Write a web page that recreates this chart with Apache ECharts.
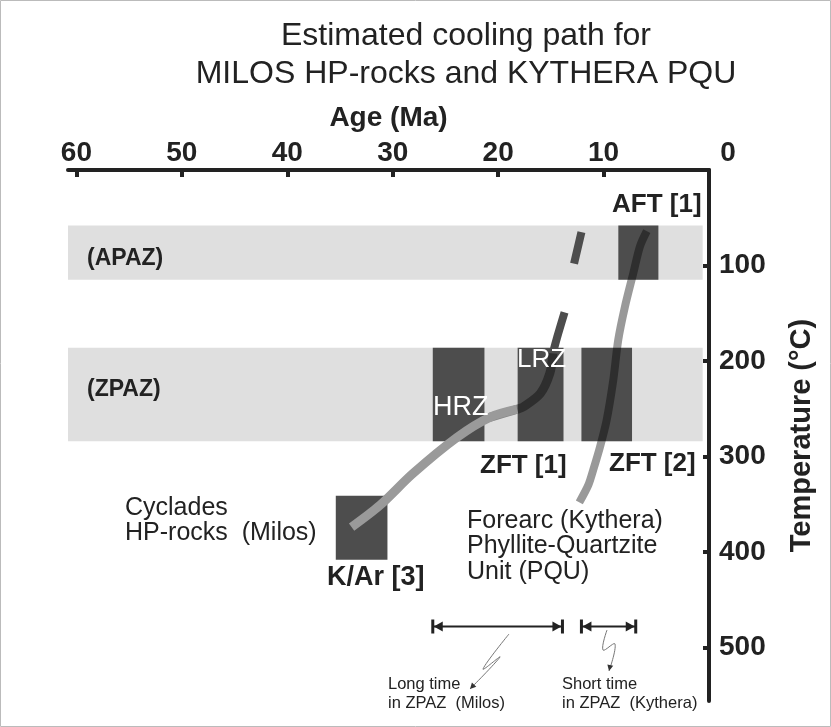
<!DOCTYPE html>
<html>
<head>
<meta charset="utf-8">
<script src="https://cdn.jsdelivr.net/npm/echarts@6/dist/echarts.min.js"></script>
<style>
  html, body { margin: 0; padding: 0; background: #fff; }
  #chart { width: 831px; height: 727px; }
</style>
</head>
<body>
<div id="chart"></div>
<script>
// axis ticks
const ageTicks = [0, 10, 20, 30, 40, 50, 60]
const tempTicks = [100, 200, 300, 400, 500]

// partial annealing zones (°C), spanning the whole age range
const zoneNames = ['(APAZ)', '(ZPAZ)']
const zoneTempTop = [58, 186]
const zoneTempBottom = [115, 284]
const zoneAgeOld = [60.8, 60.8]
const zoneAgeYoung = [0.6, 0.6]

// dating boxes: AFT [1], HRZ, LRZ (ZFT [1]), ZFT [2], K/Ar [3]
const boxNames = ['AFT [1]', 'HRZ', 'LRZ', 'ZFT [2]', 'K/Ar [3]']
const boxAgeOld = [8.6, 26.2, 18.15, 12.1, 35.4]
const boxAgeYoung = [4.8, 21.3, 13.8, 7.3, 30.5]
const boxTempTop = [58, 186, 186, 186, 341]
const boxTempBottom = [115, 284, 284, 284, 408]

// cooling path Milos, lower part (light grey)
const milosAge = [33.9, 31.2, 28.1, 23.9, 20.8, 18.2]
const milosTemp = [374, 351, 318, 280, 259, 250.5]
// cooling path Milos through the LRZ box
const milosLrzAge = [20.8, 18.2, 17.6, 16.0, 15.1, 14.8]
const milosLrzTemp = [259, 250.5, 248, 234, 213, 192]
// cooling path Milos, dark dashed extrapolation
const milosExtAge = [16.0, 15.1, 14.8, 14.4, 13.7, null, 12.8, 12.1]
const milosExtTemp = [234, 213, 192, 175, 149, null, 98, 65]

// cooling path Kythera
const kytheraAge = [12.3, 11.45, 10.98, 10.34, 9.71, 9.08, 8.61, 7.97, 7.18, 6.55, 5.9]
const kytheraTemp = [348, 330, 314, 290, 262, 220, 178, 143, 108, 80, 64]

// time spent in ZPAZ
const spanStart = [26.2, 12.1]
const spanEnd = [13.9, 6.95]
const spanTemp = [478, 478]

const ink = '#222'
const font = 'Liberation Sans, Arial, sans-serif'

const chart = echarts.init(document.getElementById('chart'), null, { renderer: 'canvas' })

function rectItem(params, api, fill) {
  const p0 = api.coord([api.value(0), api.value(2)])
  const p1 = api.coord([api.value(1), api.value(3)])
  return {
    type: 'rect',
    shape: {
      x: Math.min(p0[0], p1[0]),
      y: Math.min(p0[1], p1[1]),
      width: Math.abs(p1[0] - p0[0]),
      height: Math.abs(p1[1] - p0[1])
    },
    style: { fill: fill }
  }
}

function spanItem(params, api) {
  const a = api.coord([api.value(0), api.value(2)])
  const b = api.coord([api.value(1), api.value(2)])
  const x0 = Math.min(a[0], b[0])
  const x1 = Math.max(a[0], b[0])
  const y = a[1]
  const h = 7
  const al = 10
  return {
    type: 'group',
    children: [
      { type: 'line', shape: { x1: x0, y1: y, x2: x1, y2: y }, style: { stroke: ink, lineWidth: 2 } },
      { type: 'line', shape: { x1: x0, y1: y - h, x2: x0, y2: y + h }, style: { stroke: ink, lineWidth: 3 } },
      { type: 'line', shape: { x1: x1, y1: y - h, x2: x1, y2: y + h }, style: { stroke: ink, lineWidth: 3 } },
      { type: 'polygon', shape: { points: [[x0 + 1, y], [x0 + al, y - 5], [x0 + al, y + 5]] }, style: { fill: ink } },
      { type: 'polygon', shape: { points: [[x1 - 1, y], [x1 - al, y - 5], [x1 - al, y + 5]] }, style: { fill: ink } }
    ]
  }
}

const zoneData = zoneNames.map((n, i) => [zoneAgeOld[i], zoneAgeYoung[i], zoneTempTop[i], zoneTempBottom[i]])
const boxData = boxNames.map((n, i) => [boxAgeOld[i], boxAgeYoung[i], boxTempTop[i], boxTempBottom[i]])
const milosData = milosAge.map((a, i) => [a, milosTemp[i]])
const milosLrzData = milosLrzAge.map((a, i) => [a, milosLrzTemp[i]])
const milosExtData = milosExtAge.map((a, i) => (a === null ? '-' : [a, milosExtTemp[i]]))
const kytheraData = kytheraAge.map((a, i) => [a, kytheraTemp[i]])
const spanData = spanStart.map((s, i) => [s, spanEnd[i], spanTemp[i]])

function txt(left, top, text, size, weight, color) {
  return {
    type: 'text',
    left: left,
    top: top,
    z: 100,
    style: {
      text: text,
      font: (weight || 'normal') + ' ' + size + 'px ' + font,
      fill: color || ink
    }
  }
}

function squiggle(points) {
  const n = points.length
  const p = points[n - 1]
  const q = points[n - 2]
  const ang = Math.atan2(p[1] - q[1], p[0] - q[0])
  const L = 6
  const W = 3
  const bx = p[0] - L * Math.cos(ang)
  const by = p[1] - L * Math.sin(ang)
  return [
    { type: 'polyline', z: 100, shape: { points: points, smooth: 0.4 }, style: { stroke: '#777', lineWidth: 1, fill: null } },
    { type: 'polygon', z: 100, shape: { points: [p, [bx - W * Math.sin(ang), by + W * Math.cos(ang)], [bx + W * Math.sin(ang), by - W * Math.cos(ang)]] }, style: { fill: '#333' } }
  ]
}

const lineCommon = { type: 'line', smooth: 0.3, showSymbol: false, silent: true }

const option = {
  backgroundColor: '#fff',
  animation: false,
  grid: { left: 68, right: 122, top: 170, bottom: 26 },
  xAxis: {
    type: 'value',
    position: 'top',
    inverse: true,
    min: 0,
    max: 60.8,
    name: 'Age (Ma)',
    nameLocation: 'middle',
    nameGap: 38,
    nameTextStyle: { fontFamily: font, fontSize: 28, fontWeight: 'bold', color: ink },
    axisLine: { show: true, onZero: false, lineStyle: { color: ink, width: 4 } },
    axisTick: { show: true, inside: true, length: 7, lineStyle: { color: ink, width: 4 }, customValues: ageTicks },
    axisLabel: {
      margin: 3,
      fontFamily: font,
      fontSize: 28,
      fontWeight: 'bold',
      color: ink,
      customValues: ageTicks,
      formatter: v => (v === 0 ? '{z|0}' : String(v)),
      rich: { z: { padding: [0, 0, 0, 38], fontFamily: font, fontSize: 28, fontWeight: 'bold', color: ink } }
    },
    splitLine: { show: false }
  },
  yAxis: {
    type: 'value',
    position: 'right',
    inverse: true,
    min: 0,
    max: 556,
    name: 'Temperature (°C)',
    nameLocation: 'middle',
    nameRotate: 90,
    nameGap: 78,
    nameTextStyle: { fontFamily: font, fontSize: 29, fontWeight: 'bold', color: ink },
    axisLine: { show: true, onZero: false, lineStyle: { color: ink, width: 4 } },
    axisTick: { show: true, inside: true, length: 6, lineStyle: { color: ink, width: 4 }, customValues: tempTicks },
    axisLabel: { margin: 10, fontFamily: font, fontSize: 28, fontWeight: 'bold', color: ink, customValues: tempTicks },
    splitLine: { show: false }
  },
  series: [
    {
      type: 'custom',
      name: 'zones',
      z: 1,
      renderItem: (p, api) => rectItem(p, api, '#dfdfdf'),
      encode: { x: [0, 1], y: [2, 3] },
      data: zoneData,
      silent: true
    },
    {
      type: 'custom',
      name: 'boxes',
      z: 2,
      renderItem: (p, api) => rectItem(p, api, '#4d4d4d'),
      encode: { x: [0, 1], y: [2, 3] },
      data: boxData,
      silent: true
    },
    Object.assign({}, lineCommon, {
      name: 'Milos extrapolation',
      z: 3,
      data: milosExtData,
      connectNulls: false,
      lineStyle: { color: '#4d4d4d', width: 8, cap: 'butt' }
    }),
    Object.assign({}, lineCommon, {
      name: 'Milos LRZ',
      z: 4,
      data: milosLrzData,
      lineStyle: { color: 'rgba(0,0,0,0.4)', width: 9, cap: 'butt' }
    }),
    Object.assign({}, lineCommon, {
      name: 'Milos',
      z: 5,
      data: milosData,
      lineStyle: { color: '#9a9a9a', width: 9, cap: 'butt' }
    }),
    Object.assign({}, lineCommon, {
      name: 'Kythera',
      z: 4,
      data: kytheraData,
      lineStyle: { color: 'rgba(0,0,0,0.4)', width: 8, cap: 'butt' }
    }),
    {
      type: 'custom',
      name: 'time in ZPAZ',
      z: 6,
      renderItem: spanItem,
      encode: { x: [0, 1], y: 2 },
      data: spanData,
      silent: true
    }
  ],
  graphic: [
    { type: 'rect', shape: { x: 0.5, y: 0.5, width: 830, height: 726 }, style: { fill: null, stroke: '#bbb', lineWidth: 1 }, z: 0 },
    { type: 'text', x: 466, y: 36, z: 100, style: { text: 'Estimated cooling path for', font: 'normal 32px ' + font, fill: ink, textAlign: 'center', textVerticalAlign: 'middle' } },
    { type: 'text', x: 466, y: 74, z: 100, style: { text: 'MILOS HP-rocks and KYTHERA PQU', font: 'normal 32px ' + font, fill: ink, textAlign: 'center', textVerticalAlign: 'middle' } },
    txt(87, 247, zoneNames[0], 23, 'bold'),
    txt(87, 378, zoneNames[1], 23, 'bold'),
    txt(612, 192, boxNames[0], 26, 'bold'),
    txt(433, 394, boxNames[1], 27, 'normal', '#fff'),
    txt(517, 347, boxNames[2], 26, 'normal', '#fff'),
    txt(480, 453, 'ZFT [1]', 26, 'bold'),
    txt(609, 451, boxNames[3], 26, 'bold'),
    txt(327, 564, boxNames[4], 27, 'bold'),
    txt(125, 496, 'Cyclades', 25),
    txt(125, 521, 'HP-rocks  (Milos)', 25),
    txt(467, 509, 'Forearc (Kythera)', 25),
    txt(467, 534, 'Phyllite-Quartzite', 25),
    txt(467, 560, 'Unit (PQU)', 25),
    txt(388, 676, 'Long time', 16.5),
    txt(388, 695, 'in ZPAZ  (Milos)', 16.5),
    txt(562, 676, 'Short time', 16.5),
    txt(562, 695, 'in ZPAZ  (Kythera)', 16.5)
  ].concat(
    squiggle([[509, 634], [483, 669], [500, 657], [470, 689]]),
    squiggle([[607, 630], [603, 650], [615, 644], [609, 671]])
  )
}

chart.setOption(option)
</script>
</body>
</html>
